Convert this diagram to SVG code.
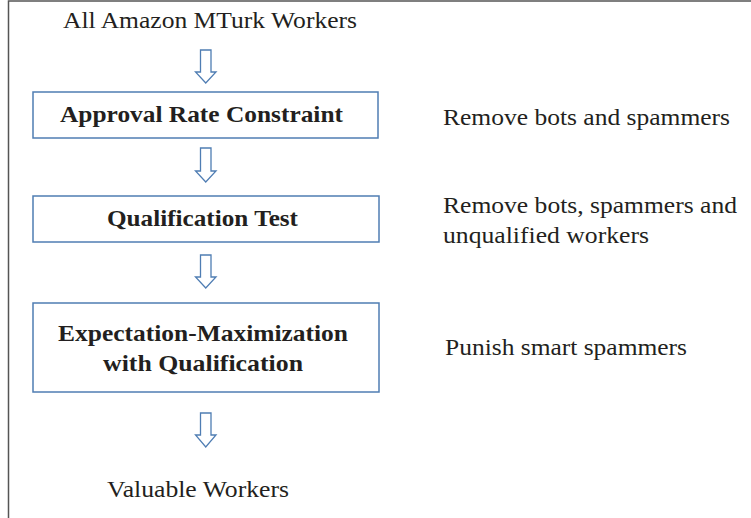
<svg xmlns="http://www.w3.org/2000/svg" width="751" height="518" viewBox="0 0 751 518">
<style>
.t{font-family:"Liberation Serif","Times New Roman",serif;font-size:23.5px;fill:#231f20}
.b{font-weight:bold;font-size:22.5px}
.box{fill:#fff;stroke:#4f7db3;stroke-width:1.5}
.arr{fill:#fff;stroke:#4f7db3;stroke-width:1.3;stroke-linejoin:miter}
</style>
<rect width="751" height="518" fill="#fff"/>
<path d="M8.5,518 V1 H751" fill="none" stroke="#555" stroke-width="1.5"/>
<g id="start"><text class="t" x="63" y="28" textLength="294" lengthAdjust="spacingAndGlyphs">All Amazon MTurk Workers</text></g>
<g id="approval">
<rect class="box" x="33" y="92" width="345" height="46"/>
<text class="t b" x="60" y="121.5" textLength="283" lengthAdjust="spacingAndGlyphs">Approval Rate Constraint</text>
</g>
<g id="qualification">
<rect class="box" x="33" y="196" width="346" height="46"/>
<text class="t b" x="107" y="226" textLength="191" lengthAdjust="spacingAndGlyphs">Qualification Test</text>
</g>
<g id="em">
<rect class="box" x="33" y="303" width="346" height="89"/>
<text class="t b" x="58" y="341" textLength="290" lengthAdjust="spacingAndGlyphs">Expectation-Maximization</text>
<text class="t b" x="103" y="371" textLength="200" lengthAdjust="spacingAndGlyphs">with Qualification</text>
</g>
<g id="end"><text class="t" x="107" y="496.5" textLength="182" lengthAdjust="spacingAndGlyphs">Valuable Workers</text></g>
<g id="note1"><text class="t" x="443" y="124.5" textLength="287" lengthAdjust="spacingAndGlyphs">Remove bots and spammers</text></g>
<g id="note2"><text class="t" x="443" y="213" textLength="294" lengthAdjust="spacingAndGlyphs">Remove bots, spammers and</text><text class="t" x="443" y="243" textLength="206" lengthAdjust="spacingAndGlyphs">unqualified workers</text></g>
<g id="note3"><text class="t" x="445" y="355" textLength="242" lengthAdjust="spacingAndGlyphs">Punish smart spammers</text></g>
<g id="connectors">
<path class="arr" d="M200.5,50 H211 V72 H216 L205.75,83 L195.5,72 H200.5 Z"/>
<path class="arr" d="M200.5,148 H211 V171 H216 L205.75,182 L195.5,171 H200.5 Z"/>
<path class="arr" d="M200.5,255 H211 V277 H216 L205.75,288 L195.5,277 H200.5 Z"/>
<path class="arr" d="M200.5,413 H211 V435 H216 L205.75,447 L195.5,435 H200.5 Z"/>
</g>
</svg>
